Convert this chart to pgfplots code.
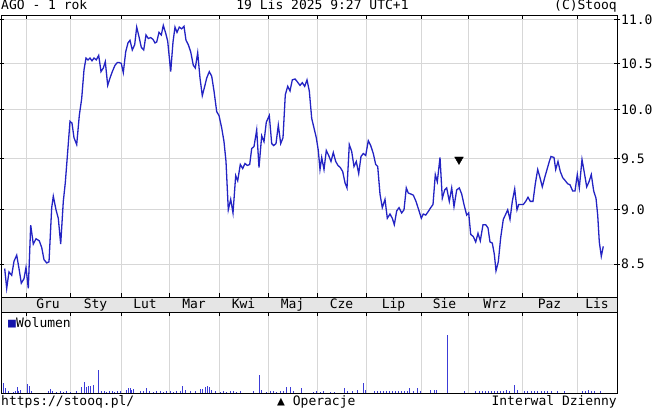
\documentclass[border=0pt]{standalone}
\usepackage{pgfplots}
\pgfplotsset{compat=1.18}
\usepackage{fontspec}
\setmainfont{DejaVu Sans Mono}
\setmonofont{DejaVu Sans Mono}
\newcommand\lbl{\fontsize{13}{15}\selectfont}
\definecolor{lineblue}{RGB}{35,35,195}
\definecolor{volblue}{RGB}{60,60,215}
\definecolor{legblue}{RGB}{20,20,170}
\definecolor{gridgray}{RGB}{215,215,215}

\begin{document}
\begin{tikzpicture}
\path[use as bounding box] (0pt,0pt) rectangle (654pt,-414pt);
% month band between price and volume panels
\filldraw[fill=black!10, draw=black, line width=0.9pt] (1pt,-297pt) rectangle (617pt,-312pt);

% price panel (logarithmic price scale)
\begin{axis}[
  at={(1pt,-297pt)}, anchor=south west,
  width=616pt, height=282pt, scale only axis,
  xmin=1, xmax=617,
  y coord trafo/.code={\pgfmathparse{ln(#1)}},
  y coord inv trafo/.code={\pgfmathparse{exp(#1)}},
  ymin=8.21, ymax=11.05,
  axis line style={black, line width=0.9pt},
  ytick={8.5,9,9.5,10,10.5,11},
  yticklabels={8.5,9.0,9.5,10.0,10.5,11.0},
  ytick pos=both, yticklabel pos=right, ytick align=center,
  major tick length=6pt,
  yticklabel style={font=\lbl, anchor=west, inner sep=1pt},
  xtick={48,95.5,145,194,243.5,292.5,341.5,393.5,444.5,495,549.5,597},
  xticklabels={Gru,Sty,Lut,Mar,Kwi,Maj,Cze,Lip,Sie,Wrz,Paz,Lis},
  major x tick style={draw=none},
  minor xtick={26,70,121,169,219,268,317,366,421,468,522,577},
  minor tick length=4pt, xtick align=inside, xtick pos=both,
  xticklabel pos=lower,
  xticklabel style={font=\lbl, anchor=base, inner sep=0pt, yshift=-12pt},
  xmajorgrids=false, xminorgrids=true, ymajorgrids=true,
  grid style={draw=gridgray, line width=0.9pt},
  tick style={black, line width=0.9pt},
]
\addplot[color=lineblue, line width=1.3pt] coordinates {
(4.7,8.46) (6.7,8.285) (9,8.43) (11.7,8.40) (14,8.525) (16.7,8.58) (19,8.46)
(21.3,8.33) (24,8.37) (26,8.47) (28.3,8.285) (30.7,8.856) (33.3,8.68) (36,8.73)
(39.3,8.71) (41.7,8.65) (44,8.54) (46.7,8.51) (49,8.52) (51.7,9.02) (53.3,9.13)
(56,9.0) (58.3,8.92) (60.7,8.68) (63.3,9.08) (65.3,9.26) (67.7,9.57) (70,9.88)
(72,9.86) (74,9.71) (76.7,9.64) (79.3,9.94) (81.7,10.12) (84,10.43) (86,10.56)
(88,10.54) (90,10.56) (92,10.53) (94,10.56) (96.3,10.54) (98.7,10.59) (101,10.41)
(103.3,10.45) (105.3,10.52) (107.7,10.26) (110,10.34) (112.3,10.41) (115,10.48)
(117.3,10.51) (119.3,10.51) (121.3,10.5) (123.3,10.40) (125.7,10.63) (128,10.73)
(130,10.76) (132.3,10.65) (134.7,10.71) (136.7,10.91) (139,10.80) (141.3,10.68)
(143.7,10.65) (146,10.82) (148.3,10.78) (150.7,10.79) (153,10.77) (155,10.73)
(156.7,10.74) (159,10.85) (161.3,10.82) (163.3,10.93) (165.7,10.84) (167.7,10.75)
(170.7,10.41) (173,10.74) (175,10.91) (177,10.85) (179.3,10.91) (181.7,10.89)
(184,10.92) (186,10.76) (188.3,10.71) (190.7,10.63) (193.3,10.48) (195.3,10.45)
(197.7,10.62) (200,10.34) (202.3,10.15) (204.7,10.25) (206.7,10.34) (209.3,10.41)
(211.7,10.36) (214,10.20) (216.7,9.98) (219,9.94) (221.7,9.81) (224,9.67)
(226,9.47) (228.3,9.0) (230.7,9.10) (233,8.97) (235.7,9.33) (237.7,9.28)
(240.3,9.44) (242.7,9.40) (245,9.45) (247.3,9.43) (249.7,9.44) (251.7,9.60)
(254,9.62) (256.7,9.79) (259,9.41) (261.7,9.73) (264,9.67) (266.3,9.87)
(269.3,9.94) (271.7,9.65) (273.7,9.63) (276,9.65) (278.3,9.84) (280.7,9.65)
(283,9.71) (285.3,10.16) (287.7,10.25) (290,10.20) (292.3,10.32) (295,10.33)
(297.3,10.30) (300,10.26) (302.3,10.29) (304.7,10.25) (307,10.32) (309.3,10.20)
(311.7,9.91) (314,9.81) (316.3,9.71) (318.3,9.58) (320,9.39) (321.7,9.51)
(324,9.39) (326.3,9.58) (328.7,9.53) (331,9.47) (333.3,9.56) (335.7,9.47)
(338,9.43) (340.3,9.41) (342.7,9.37) (345,9.26) (347,9.21) (349.3,9.64)
(351.7,9.57) (354,9.42) (356.3,9.47) (358.7,9.35) (361,9.52) (363.3,9.55)
(365.7,9.53) (368.3,9.68) (370.7,9.63) (373.3,9.55) (375.7,9.44) (377.7,9.42)
(380,9.15) (382.3,9.02) (385,9.10) (387.3,8.92) (390,8.96) (392.3,8.92)
(394.3,8.86) (396.7,8.99) (399,9.02) (401.7,8.97) (404,9.0) (406.3,9.21)
(408.3,9.16) (411,9.15) (413.3,9.14) (416,9.08) (418.7,9.0) (421.3,8.92)
(423.3,8.96) (425.7,8.95) (428,8.98) (430.7,9.02) (433,9.05) (435.3,9.34)
(437.3,9.27) (440,9.51) (442.3,9.11) (444.7,9.19) (446.7,9.21) (449.3,9.08)
(451.7,9.21) (454,9.03) (456.7,9.19) (459.3,9.21) (461.7,9.15) (464,9.05)
(466.7,8.95) (468.7,8.97) (470.7,8.77) (473.3,8.75) (475.7,8.70) (478,8.78)
(480.3,8.71) (483,8.86) (485.7,8.86) (488,8.83) (490,8.70) (492.3,8.69)
(494.3,8.59) (496,8.44) (498.3,8.52) (500.7,8.74) (503.3,8.91) (505.3,8.95)
(507.7,9.0) (510,8.91) (512.3,9.08) (514.7,9.20) (517,9.0) (518.7,9.05)
(521,9.05) (523.3,9.05) (525.7,9.08) (528,9.12) (530.3,9.08) (533,9.08)
(535.3,9.25) (537.7,9.39) (540,9.31) (542.3,9.22) (544.7,9.31) (547,9.39)
(549.3,9.47) (551,9.52) (554,9.51) (555.7,9.39) (558,9.47) (560.3,9.37)
(562.7,9.31) (565.3,9.28) (567.7,9.25) (570,9.24) (572.7,9.18) (575,9.18)
(577.3,9.34) (579.3,9.21) (582,9.49) (584.3,9.36) (586.7,9.22) (589,9.27)
(591.3,9.34) (593.7,9.18) (596,9.11) (597.7,8.95) (599.3,8.70) (601.3,8.57)
(603.3,8.66)
};
% sell operation marker
\addplot[only marks, mark=triangle*, mark size=5pt,
  mark options={rotate=180, fill=black, draw=black}] coordinates {(459,9.49)};
\end{axis}

% volume panel
\begin{axis}[
  at={(1pt,-393pt)}, anchor=south west,
  width=616pt, height=81pt, scale only axis,
  xmin=1, xmax=617, ymin=0, ymax=81,
  axis line style={black, line width=0.9pt},
  ytick=\empty,
  xtick={26,70,121,169,219,268,317,366,421,468,522,577},
  xticklabels={},
  xtick pos=right, xtick align=inside, major tick length=4pt,
  xmajorgrids=true,
  grid style={draw=gridgray, line width=0.9pt},
  tick style={black, line width=0.9pt},
]
\addplot[ycomb, color=volblue, line width=1pt] coordinates {
(4,10) (5.7,4.7) (8.3,2) (13.3,1.5) (15.7,2.5) (17.3,5.5) (19,2) (21,3)
(27.3,9) (29.3,7) (31.7,2.5) (48.3,2.5) (50.7,4) (52.7,2) (56.7,1.5) (60,2)
(63.3,1.5) (66.7,2) (70,1.5) (76.7,2) (81.7,5.5) (84,11) (86,5.5) (88.3,6.7)
(90.7,7.3) (93.3,8) (98.7,23) (101.7,2) (104,2) (106.7,1.5) (109.3,2) (112,2)
(114.3,1.5) (117,2) (120,2) (126.7,3.5) (128.3,4.5) (130,4.5) (131.7,3)
(133.3,4) (140,2) (143.3,2) (146.7,4.5) (149,2.5) (153.3,1.5) (156.7,2)
(160,2) (163.3,1.5) (166.7,2.5) (170,2) (173.3,1.5) (176.7,2) (180,2)
(182.7,7) (185,3) (190,2) (195,2) (200,4) (202.3,4) (205,6) (207.3,7)
(209.3,6) (211.7,3) (215,2.5) (220,1.5) (223.3,2) (226.7,1.5) (230,2)
(233.3,2) (236.7,1.5) (240,2) (253.3,2.5) (259.3,18) (261.7,3) (266.7,1.5)
(270,2) (273.3,2) (276.7,1.5) (280,2) (283.3,2.5) (286.7,5.5) (290,5.5)
(293.3,2) (301.7,5) (313.3,1.5) (316.7,2) (320,1.5) (323.3,2) (330,1.5)
(334,1.5) (344,5) (347.3,2) (352.3,2) (357.3,3) (363.3,10) (365.7,3)
(374,2) (377,2.5) (380,2) (383,2) (386,2) (389,2) (392,2.5) (395,2)
(398,2) (401,2.5) (404,2) (407,2) (409,5) (413,2) (417.3,5) (420,2)
(430.7,3) (434,3) (436.7,3) (447.3,58) (464,2) (475.7,2) (479,2) (482,2)
(485,2) (488,2) (491,2.5) (494,2) (497,2) (500,2.5) (503,2) (506,3)
(509,2) (514.7,8) (517.3,3) (524,2) (527.3,2) (531,2.5) (534,2) (537.3,2)
(541,2) (544,2) (547.3,2.5) (551,2) (557,2) (564,2) (582.3,2.5) (585,2)
(588,3) (591,2) (594.7,2.5) (600.7,2)
};
\end{axis}

% header and footer texts
\node[anchor=base west, inner sep=0pt, font=\lbl] at (1pt,-10pt) {AGO - 1 rok};
\node[anchor=base, inner sep=0pt, font=\lbl] at (322.5pt,-10pt) {19 Lis 2025 9:27 UTC+1};
\node[anchor=base east, inner sep=0pt, font=\lbl] at (617pt,-10pt) {(C)Stooq};
\node[anchor=base west, inner sep=0pt, font=\lbl] at (8pt,-327pt) {{\color{legblue}■}Wolumen};
\node[anchor=base west, inner sep=0pt, font=\lbl] at (1pt,-405pt) {https://stooq.pl/};
\node[anchor=base west, inner sep=0pt, font=\lbl] at (277pt,-405pt) {▲ Operacje};
\node[anchor=base east, inner sep=0pt, font=\lbl] at (617pt,-405pt) {Interwal Dzienny};
\end{tikzpicture}
\end{document}
